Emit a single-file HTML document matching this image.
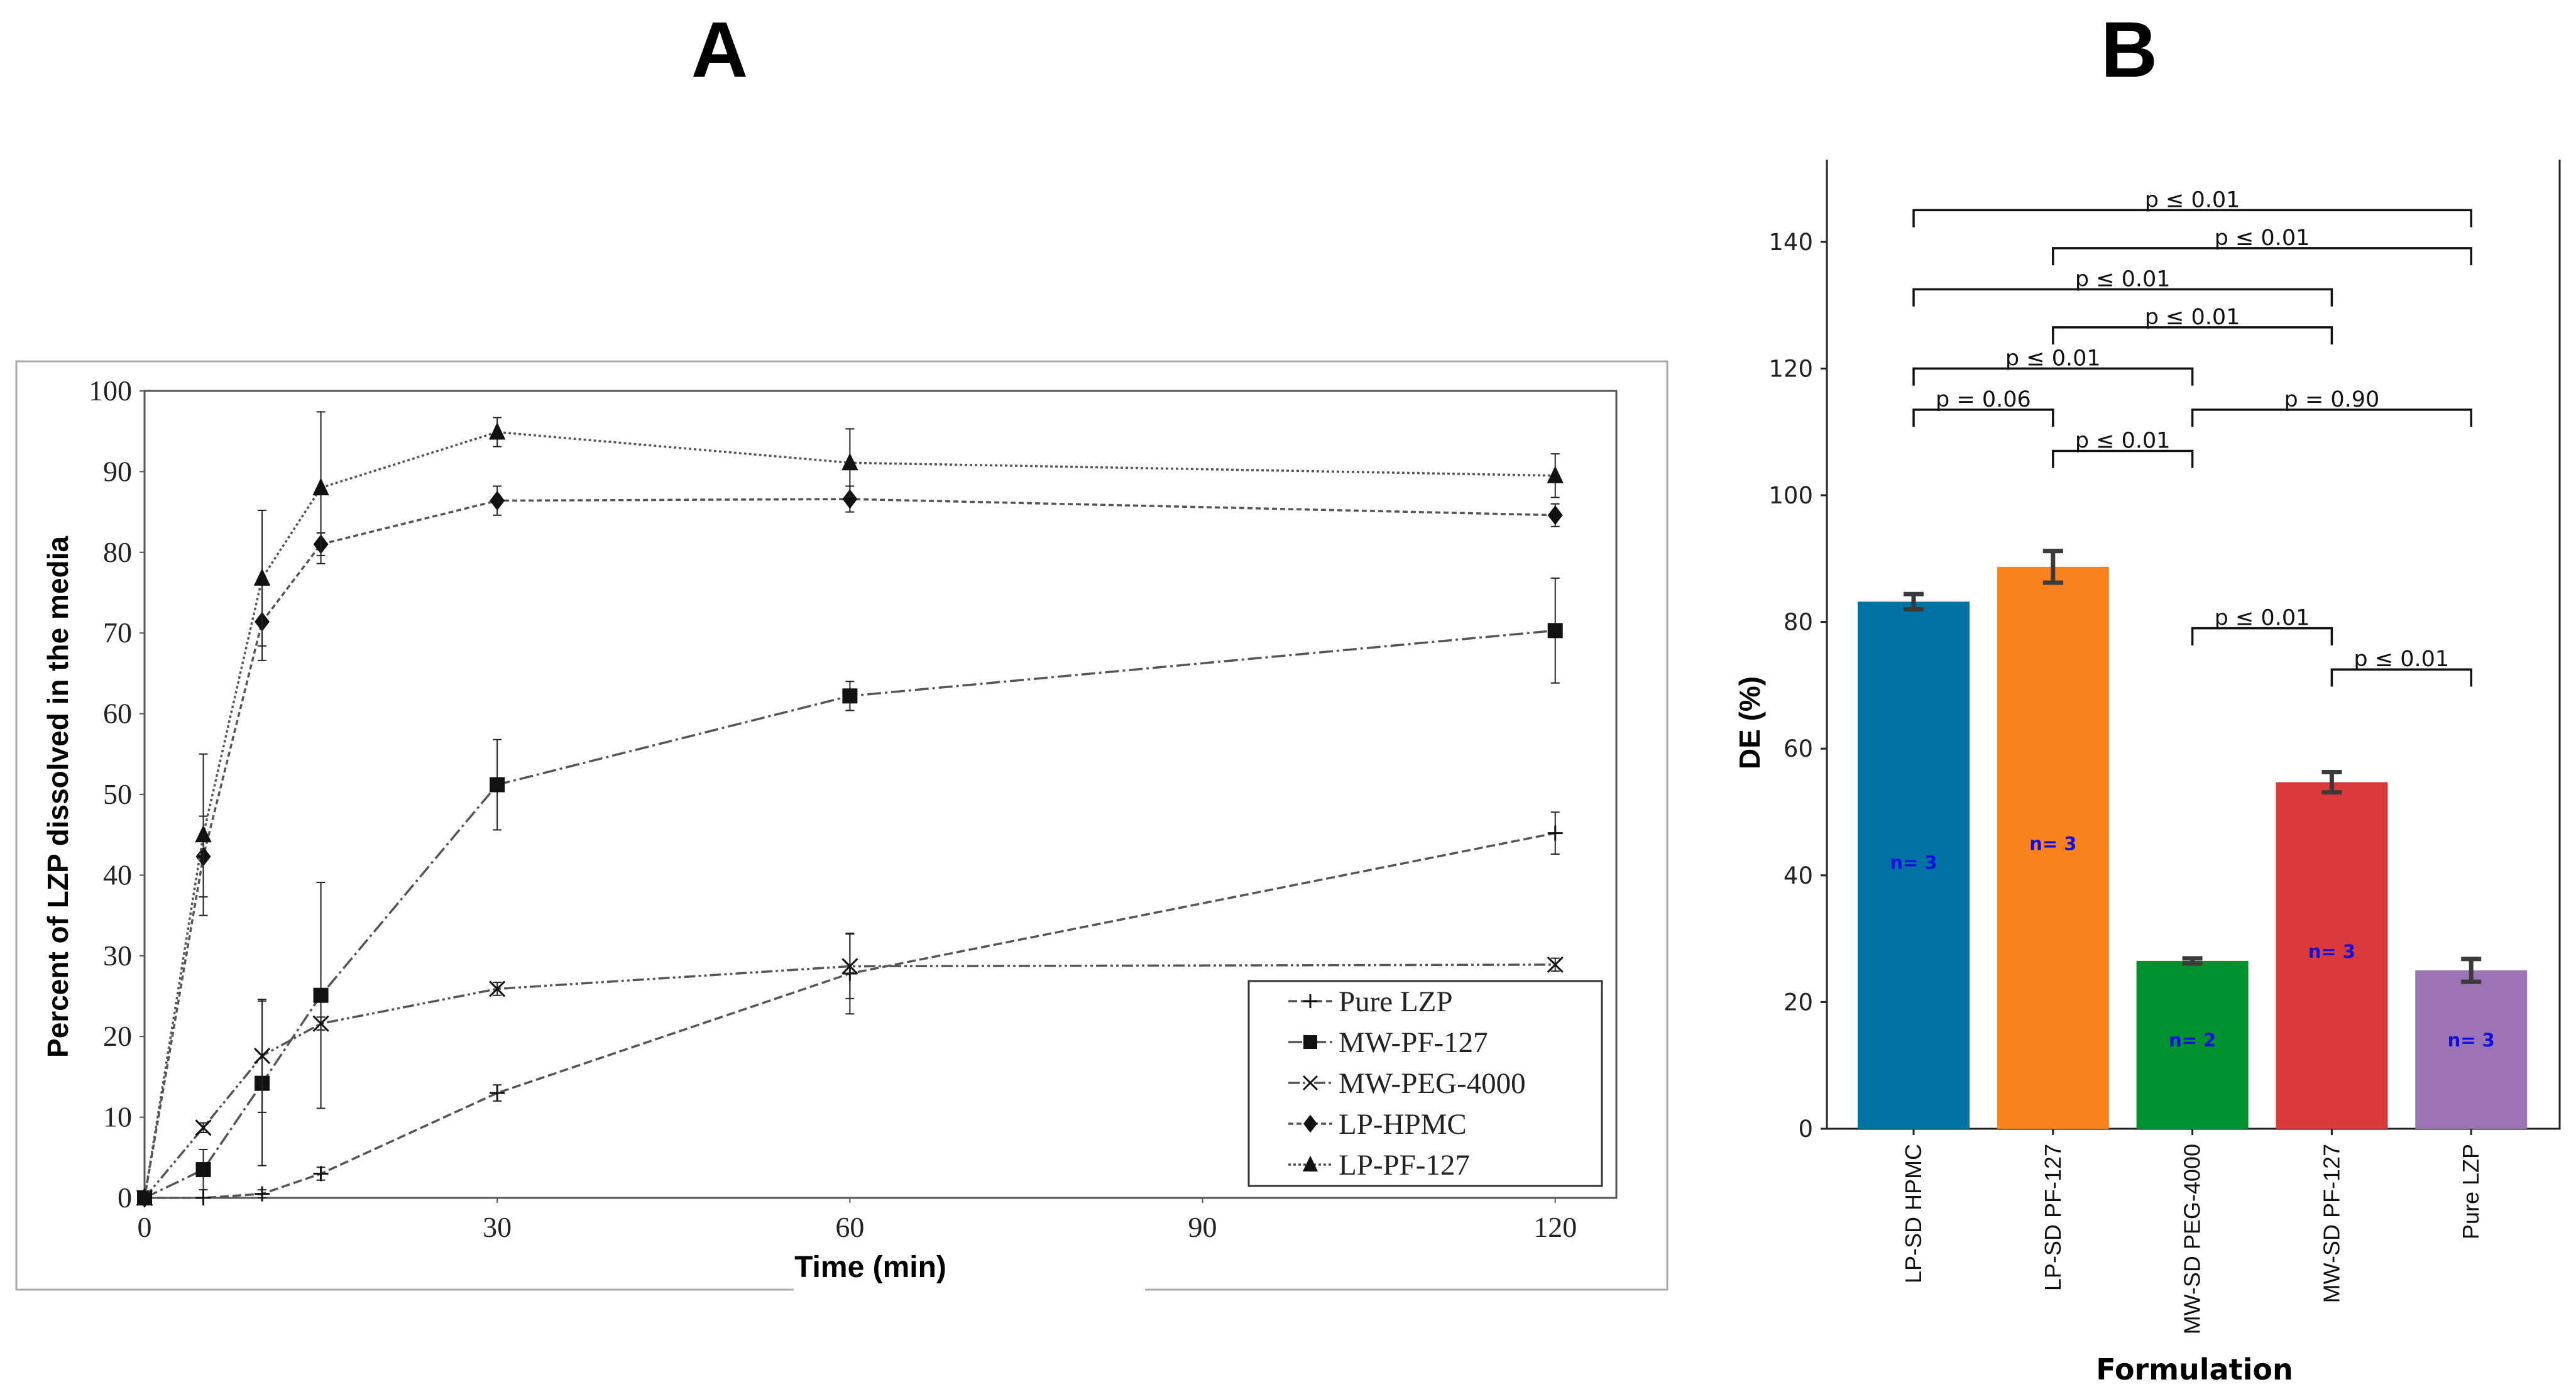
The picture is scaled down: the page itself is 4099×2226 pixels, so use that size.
<!DOCTYPE html>
<html><head><meta charset="utf-8"><style>
html,body{margin:0;padding:0;background:#fff;}
svg{display:block}
</style></head><body>
<svg id="s" width="4099" height="2226" xmlns="http://www.w3.org/2000/svg">
<text x="1145" y="122" font-family="Liberation Sans, sans-serif" font-weight="bold" font-size="125" text-anchor="middle">A</text>
<text x="3388" y="122" font-family="Liberation Sans, sans-serif" font-weight="bold" font-size="125" text-anchor="middle">B</text>
<g id="ga"></g>
<g id="gb"></g>
</svg>
<script>
// ---- Chart A data ----
const times=[0,5,10,15,30,60,120];
const seriesNames=["Pure LZP","MW-PF-127","MW-PEG-4000","LP-HPMC","LP-PF-127"];
const pureLZP=[0,0,0.5,3,13,27.8,45.2];
const pureLZPErr=[0,0,0.5,0.8,1,5,2.6];
const mwPF=[0,3.5,14.2,25.1,51.2,62.2,70.3];
const mwPFErr=[0,2.5,10.2,14,5.6,1.8,6.5];
const mwPEG=[0,8.7,17.6,21.6,25.9,28.7,28.9];
const mwPEGErr=[0,0.6,7,0.8,0.8,4,0.8];
const lpHPMC=[0,42.3,71.4,81,86.4,86.6,84.6];
const lpHPMCErr=[0,5,4.8,1.4,1.8,1.6,1.4];
const lpPF=[0,45,76.8,88,94.9,91.1,89.5];
const lpPFErr=[0,10,8.4,9.4,1.8,4.2,2.7];
const xTicksA=[0,30,60,90,120];
const yTicksA=[0,10,20,30,40,50,60,70,80,90,100];
// ---- Chart B data ----
const formulations=["LP-SD HPMC","LP-SD PF-127","MW-SD PEG-4000","MW-SD PF-127","Pure LZP"];
const deValues=[83.2,88.7,26.5,54.7,25.0];
const deErrors=[1.2,2.5,0.4,1.6,1.8];
const nLabels=["n= 3","n= 3","n= 2","n= 3","n= 3"];
const nLabelY=[42,45,14,28,14];
const barColors=["#0173a3","#f8821e","#00922f","#dc3a3a","#9c73b5"];
const yTicksB=[0,20,40,60,80,100,120,140];
const bracketFrom=[0,1,0,1,0,0,2,1,2,3];
const bracketTo=[4,4,3,3,2,1,4,2,3,4];
const bracketY=[145,139,132.5,126.5,120,113.5,113.5,107,79,72.5];
const bracketText=["p ≤ 0.01","p ≤ 0.01","p ≤ 0.01","p ≤ 0.01","p ≤ 0.01","p = 0.06","p = 0.90","p ≤ 0.01","p ≤ 0.01","p ≤ 0.01"];

const NS="http://www.w3.org/2000/svg";
function mk(p,t,a,txt){const e=document.createElementNS(NS,t);for(const k in a)e.setAttribute(k,a[k]);if(txt!==undefined)e.textContent=txt;p.appendChild(e);return e;}

// ===== Chart A =====
const ga=document.getElementById('ga');
const AX0=230,AX1=2572,AY0=1906,AY1=622;
const xA=v=>AX0+(v/125.2)*(AX1-AX0);
const yA=v=>AY0-(v/100)*(AY0-AY1);
let e;
e=mk(ga,'path',{d:"M1263,2052 L26,2052 L26,575 L2653,575 L2653,2052 L1822,2052",fill:"none",stroke:"#aaa","stroke-width":3});

e=mk(ga,'rect',{x:AX0,y:AY1,width:AX1-AX0,height:AY0-AY1,fill:"none",stroke:"#555","stroke-width":3});

yTicksA.forEach(v=>{
 e=mk(ga,'text',{x:AX0-20,y:yA(v)+15,"font-family":"Liberation Serif, serif","font-size":46,"text-anchor":"end",fill:"#222"},String(v));
 
 mk(ga,'line',{x1:AX0-8,x2:AX0,y1:yA(v),y2:yA(v),stroke:"#555","stroke-width":2});
});
xTicksA.forEach(v=>{
 e=mk(ga,'text',{x:xA(v),y:AY0+62,"font-family":"Liberation Serif, serif","font-size":46,"text-anchor":"middle",fill:"#222"},String(v));
 
 mk(ga,'line',{x1:xA(v),x2:xA(v),y1:AY0,y2:AY0+8,stroke:"#555","stroke-width":2});
});
e=mk(ga,'text',{x:1385,y:2032,"font-family":"Liberation Sans, sans-serif","font-weight":"bold","font-size":48,"text-anchor":"middle"},"Time (min)");

e=mk(ga,'text',{x:0,y:0,transform:"translate(108,1268) rotate(-90)","font-family":"Liberation Sans, sans-serif","font-weight":"bold","font-size":46,"text-anchor":"middle"},"Percent of LZP dissolved in the media");


const allVals=[pureLZP,mwPF,mwPEG,lpHPMC,lpPF];
const allErr=[pureLZPErr,mwPFErr,mwPEGErr,lpHPMCErr,lpPFErr];
const dashes=["14,6","22,6,4,6","18,5,4,5,4,5","8,5","4,4"];
const markers=["plus","square","x","diamond","triangle"];
function marker(g,type,cx,cy,s){
 if(type==="plus"){mk(g,'path',{d:`M${cx-s},${cy}H${cx+s}M${cx},${cy-s}V${cy+s}`,stroke:"#111","stroke-width":3});}
 else if(type==="square"){mk(g,'rect',{x:cx-s,y:cy-s,width:2*s,height:2*s,fill:"#111"});}
 else if(type==="x"){mk(g,'path',{d:`M${cx-s},${cy-s}L${cx+s},${cy+s}M${cx-s},${cy+s}L${cx+s},${cy-s}`,stroke:"#111","stroke-width":3});}
 else if(type==="diamond"){mk(g,'path',{d:`M${cx},${cy-s*1.3}L${cx+s},${cy}L${cx},${cy+s*1.3}L${cx-s},${cy}Z`,fill:"#111"});}
 else {mk(g,'path',{d:`M${cx},${cy-s*1.3}L${cx+s*1.1},${cy+s}L${cx-s*1.1},${cy+s}Z`,fill:"#111"});}
}
allVals.forEach((vals,si)=>{
 const g=mk(ga,'g',{});
 
 
 const d=vals.map((v,i)=>(i?'L':'M')+xA(times[i]).toFixed(1)+','+yA(v).toFixed(1)).join('');
 mk(g,'path',{d:d,fill:"none",stroke:"#555","stroke-width":3.5,"stroke-dasharray":dashes[si]});
 vals.forEach((v,i)=>{
  const er=allErr[si][i];const cx=xA(times[i]);
  if(er>0){mk(g,'path',{d:`M${cx},${yA(v+er)}V${yA(v-er)}M${cx-7},${yA(v+er)}H${cx+7}M${cx-7},${yA(v-er)}H${cx+7}`,stroke:"#222","stroke-width":2,fill:"none"});}
  marker(g,markers[si],cx,yA(v),12);
 });
});
// legend
const lg=mk(ga,'g',{});

mk(lg,'rect',{x:1987,y:1561,width:562,height:326,fill:"#fff",stroke:"#333","stroke-width":3});
seriesNames.forEach((n,i)=>{
 const y=1593+i*65;
 const le=mk(lg,'g',{});
 
 mk(le,'line',{x1:2050,x2:2120,y1:y,y2:y,stroke:"#555","stroke-width":3.5,"stroke-dasharray":dashes[i]});
 marker(le,markers[i],2085,y,11);
 mk(le,'text',{x:2130,y:y+16,"font-family":"Liberation Serif, serif","font-size":47,fill:"#222"},n);
});

// ===== Chart B =====
const gb=document.getElementById('gb');
const BX0=2907,BX1=4073,BY0=1796,BTOP=254;
const yB=v=>BY0-v*10.08;
const xB=i=>3045+i*221.8;
const BW=178;
e=mk(gb,'path',{d:`M${BX0},${BTOP}V${BY0}H${BX1}V${BTOP}`,fill:"none",stroke:"#222","stroke-width":3});

yTicksB.forEach(v=>{
 mk(gb,'line',{x1:BX0-10,x2:BX0,y1:yB(v),y2:yB(v),stroke:"#222","stroke-width":3});
 e=mk(gb,'text',{x:BX0-22,y:yB(v)+13,"font-family":"DejaVu Sans, sans-serif","font-size":37,"text-anchor":"end",fill:"#222"},String(v));
 
});
formulations.forEach((f,i)=>{
 const cx=xB(i);
 e=mk(gb,'rect',{x:cx-BW/2,y:yB(deValues[i]),width:BW,height:BY0-yB(deValues[i]),fill:barColors[i]});
 
 const t=yB(deValues[i]+deErrors[i]),b=yB(deValues[i]-deErrors[i]);
 e=mk(gb,'path',{d:`M${cx},${t}V${b}M${cx-16},${t}H${cx+16}M${cx-16},${b}H${cx+16}`,stroke:"#3a3a3a","stroke-width":7,fill:"none"});
 
 e=mk(gb,'text',{x:cx,y:yB(nLabelY[i])+10,"font-family":"DejaVu Sans, sans-serif","font-weight":"bold","font-size":29,"text-anchor":"middle",fill:"#1010e0"},nLabels[i]);
 
 mk(gb,'line',{x1:cx,x2:cx,y1:BY0,y2:BY0+10,stroke:"#222","stroke-width":3});
 e=mk(gb,'text',{x:0,y:0,transform:`translate(${cx+12},${BY0+24}) rotate(-90)`,"font-family":"Liberation Sans, sans-serif","font-size":36,"text-anchor":"end",fill:"#111"},f);
 
});
bracketY.forEach((v,k)=>{
 const x1=xB(bracketFrom[k]),x2=xB(bracketTo[k]),y=yB(v),yd=yB(v-2.7);
 const g=mk(gb,'g',{});
 
 mk(g,'path',{d:`M${x1},${yd}V${y}H${x2}V${yd}`,fill:"none",stroke:"#111","stroke-width":3.5});
 mk(g,'text',{x:(x1+x2)/2,y:y-5,"font-family":"DejaVu Sans, sans-serif","font-size":35,"text-anchor":"middle",fill:"#111"},bracketText[k]);
});
e=mk(gb,'text',{x:0,y:0,transform:"translate(2800,1150) rotate(-90)","font-family":"Liberation Sans, sans-serif","font-weight":"bold","font-size":46,"text-anchor":"middle"},"DE (%)");

e=mk(gb,'text',{x:3492,y:2195,"font-family":"DejaVu Sans, sans-serif","font-weight":"bold","font-size":46,"text-anchor":"middle"},"Formulation");

</script>
</body></html>
